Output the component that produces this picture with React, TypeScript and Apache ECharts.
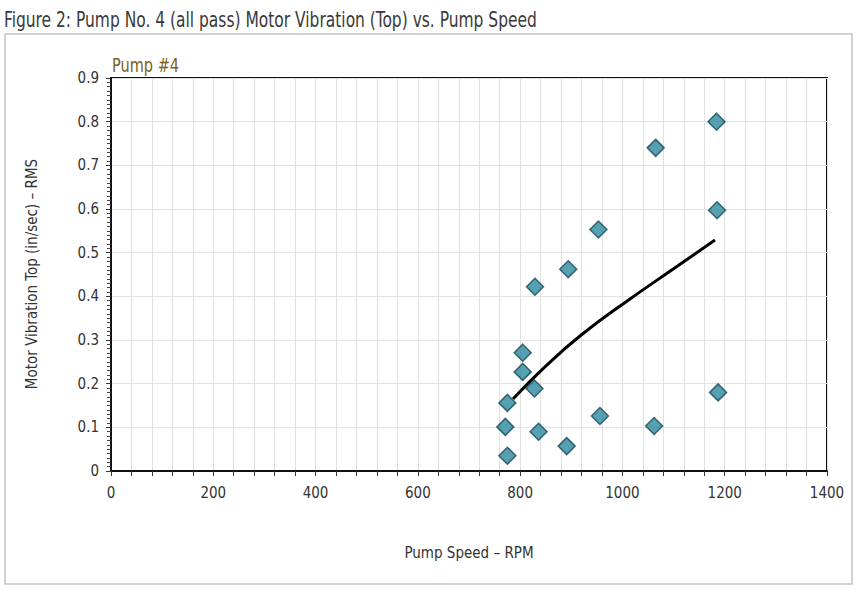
import React, { useEffect, useRef } from "react";
import * as echarts from "echarts";

const titleText = "Figure 2: Pump No. 4 (all pass) Motor Vibration (Top) vs. Pump Speed";
const seriesName = "Pump #4";
const xAxisName = "Pump Speed \u2013 RPM";
const yAxisName = "Motor Vibration Top (in/sec) \u2013 RMS";

// scatter points: pump speed (RPM)
const speeds = [1184, 1065, 1185, 953, 894, 829, 805, 805, 828, 775, 771, 836, 775, 891, 956, 1062, 1187];
// motor vibration (in/sec RMS)
const vibrations = [0.8, 0.74, 0.597, 0.553, 0.462, 0.422, 0.271, 0.227, 0.189, 0.156, 0.101, 0.09, 0.035, 0.057, 0.126, 0.103, 0.18];

// trend line
const trendX = [786, 850, 920, 1010, 1100, 1181];
const trendY = [0.165, 0.24, 0.312, 0.39, 0.463, 0.529];

const FONT = "'DejaVu Sans Condensed', 'Liberation Sans Narrow', 'Noto Sans', sans-serif";

export default function App() {
  const ref = useRef<HTMLDivElement>(null);
  useEffect(() => {
    if (!ref.current) return;
    const chart = echarts.init(ref.current, undefined, { renderer: "svg" });
    const scatterData = speeds.map((s, i) => [s, vibrations[i]]);
    const trendData = trendX.map((x, i) => [x, trendY[i]]);
    chart.setOption({
      animation: false,
      backgroundColor: "#ffffff",
      textStyle: { fontFamily: FONT },
      graphic: [
        {
          type: "rect",
          shape: { x: 5, y: 34, width: 847, height: 550 },
          style: { fill: "none", stroke: "#c4c4c4", lineWidth: 1.5 },
          silent: true,
          z: 0,
        },
        {
          type: "text",
          x: 4,
          y: 20,
          scaleX: 0.82,
          style: {
            text: titleText,
            fontFamily: FONT,
            fontSize: 21,
            fill: "#3a3a3a",
            textVerticalAlign: "middle",
          },
        },
        {
          type: "text",
          x: 112,
          y: 66,
          scaleX: 0.85,
          style: {
            text: seriesName,
            fontFamily: FONT,
            fontSize: 19,
            fill: "#7a6220",
            textVerticalAlign: "middle",
          },
        },
        {
          type: "text",
          x: 32,
          y: 274,
          rotation: Math.PI / 2,
          scaleX: 1,
          style: {
            text: yAxisName,
            fontFamily: FONT,
            fontSize: 15,
            fill: "#333",
            textAlign: "center",
            textVerticalAlign: "middle",
          },
        },
      ],
      grid: {
        left: 111,
        right: 37,
        top: 78,
        bottom: 119,
        show: true,
        borderColor: "#111",
        borderWidth: 2,
        backgroundColor: "transparent",
        containLabel: false,
      },
      xAxis: {
        type: "value",
        min: 0,
        max: 1400,
        interval: 200,
        name: xAxisName,
        nameLocation: "middle",
        nameGap: 74,
        nameTextStyle: { fontFamily: FONT, fontSize: 15, color: "#333" },
        axisLine: { show: true, lineStyle: { color: "#111", width: 2 } },
        axisTick: { show: true, length: 5, lineStyle: { color: "#333" } },
        minorTick: { show: true, splitNumber: 5, length: 5, lineStyle: { color: "#333" } },
        axisLabel: {
          fontFamily: FONT,
          fontSize: 15,
          color: "#333",
          margin: 14,
          formatter: (v: number) => String(v),
        },
        splitLine: { show: true, lineStyle: { color: "#e2e2e2", width: 1 } },
        minorSplitLine: { show: true, lineStyle: { color: "#e2e2e2", width: 1 } },
      },
      yAxis: {
        type: "value",
        min: 0,
        max: 0.9,
        interval: 0.1,
        axisLine: { show: true, lineStyle: { color: "#111", width: 2 } },
        axisTick: { show: true, length: 5, lineStyle: { color: "#333" } },
        minorTick: { show: true, splitNumber: 10, length: 4, lineStyle: { color: "#444" } },
        axisLabel: {
          fontFamily: FONT,
          fontSize: 15,
          color: "#333",
          margin: 12,
          formatter: (v: number) => (v === 0 ? "0" : v.toFixed(1)),
        },
        splitLine: { show: true, lineStyle: { color: "#e2e2e2", width: 1 } },
      },
      series: [
        {
          name: "trend",
          type: "line",
          data: trendData,
          smooth: 0.5,
          showSymbol: false,
          symbol: "none",
          lineStyle: { color: "#000", width: 3 },
          z: 2,
        },
        {
          name: seriesName,
          type: "scatter",
          data: scatterData,
          symbol: "diamond",
          symbolSize: 17,
          itemStyle: { color: "#2b8a9f", borderColor: "#1a4756", borderWidth: 1.5 },
          z: 3,
        },
      ],
    });
    return () => chart.dispose();
  }, []);
  return (
    <div
      ref={ref}
      style={{ position: "fixed", left: 0, top: 0, width: 864, height: 590 }}
    />
  );
}
